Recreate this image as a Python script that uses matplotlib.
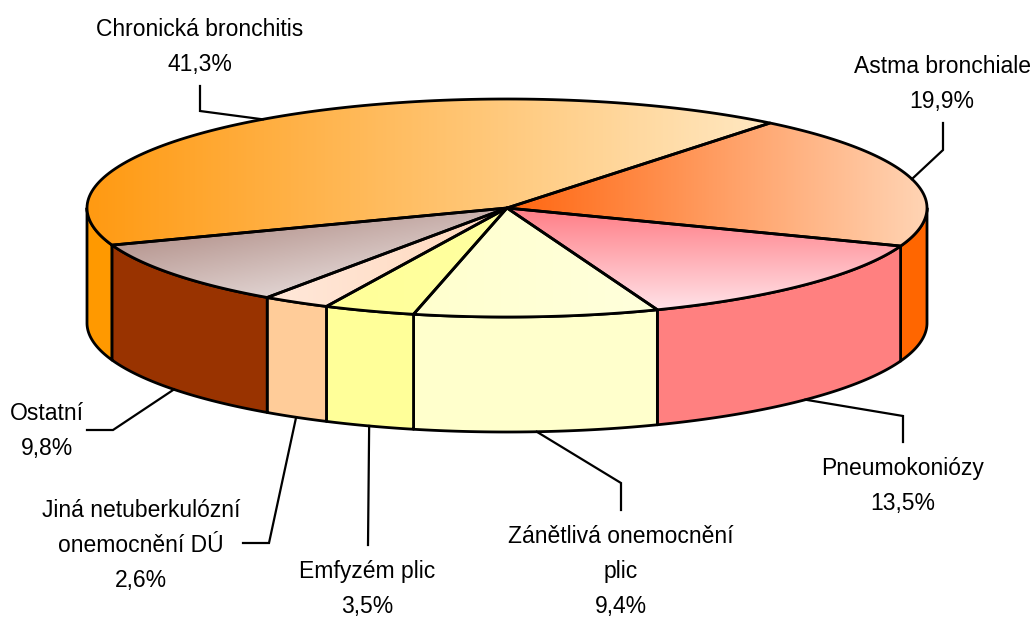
import numpy as np
import matplotlib.pyplot as plt
from matplotlib.patches import Polygon
from matplotlib.colors import LinearSegmentedColormap

# data
nazvy = ['Chronická bronchitis', 'Astma bronchiale', 'Pneumokoniózy',
         'Zánětlivá onemocnění\nplic', 'Emfyzém plic',
         'Jiná netuberkulózní\nonemocnění DÚ', 'Ostatní']
podily = [41.3, 19.9, 13.5, 9.4, 3.5, 2.6, 9.8]

# barvy: bok a prechod na horni plose (od, do, smer)
barvy_bok = ['#FF9900', '#FF6600', '#FF8080', '#FFFFCC', '#FFFF99', '#FFCC99', '#993300']
barvy_vrch = [('#FF9A12', '#FFE8C2', (1, 0)),
              ('#FF6610', '#FFD4B4', (1, 0)),
              ('#FF7E86', '#FFE2E8', (0, 1)),
              ('#FFFFCE', '#FFFFDC', (1, 0)),
              ('#FFFF99', '#FFFFA0', (1, 0)),
              ('#FFE8DA', '#FFD8BC', (1, 0)),
              ('#A47C74', '#F6F2F2', (0.8, 1))]

# pozice popisku (stred, uctari prvniho radku) a lomene vodici cary
popisky_x = [200, 942, 903, 621, 367, 141, 47]
popisky_y = [36, 73, 475, 543, 578, 517, 420]
vodici_konec = [(200, 86), (943, 123), (903, 442), (621, 510), (368, 545), (243, 543), (87, 430)]
vodici_lom = [(200, 111), (943, 150), (903, 416), (621, 483), (368, 545), (269, 543), (113, 430)]

# geometrie kolace v pixelech
CX, CY = 507, 208
A, B = 420, 109
HLOUBKA = 115
START = 199.9
LW = 2.0

plt.rcParams['font.family'] = ['Liberation Sans', 'DejaVu Sans']

fig = plt.figure(figsize=(10.34, 6.17), dpi=100)
ax = fig.add_axes([0, 0, 1, 1])
ax.axis('off')


def bod(theta, dole=0):
    t = np.radians(theta)
    return CX + A * np.cos(t), CY - B * np.sin(t) + dole


def oblouk(t1, t2, dole=0, n=120):
    tt = np.linspace(t1, t2, n)
    x, y = bod(tt, dole)
    return np.column_stack([x, y])


def prechod(poly, c1, c2, smer):
    x0, y0 = poly.min(axis=0)
    x1, y1 = poly.max(axis=0)
    X, Y = np.meshgrid(np.linspace(x0, x1, 200), np.linspace(y0, y1, 200))
    dx, dy = smer
    t = (X - x0) / max(x1 - x0, 1) * dx + (Y - y0) / max(y1 - y0, 1) * dy
    t = (t - t.min()) / max(t.max() - t.min(), 1e-9)
    cmap = LinearSegmentedColormap.from_list('g', [c1, c2])
    img = ax.imshow(t, cmap=cmap, extent=(x0, x1, y1, y0), origin='upper',
                    aspect='auto', interpolation='bilinear', zorder=2)
    p = Polygon(poly, closed=True, facecolor='none', edgecolor='none')
    ax.add_patch(p)
    img.set_clip_path(p)


uhly = START - np.cumsum([0] + podily) * 3.6
useky = [(uhly[i + 1], uhly[i]) for i in range(len(podily))]

# boky (jen predni polovina)
for (t_end, t_start), barva in zip(useky, barvy_bok):
    for lo, hi in [(-180, 0), (180, 360), (-540, -360)]:
        a1, a2 = max(t_end, lo), min(t_start, hi)
        if a2 - a1 > 1e-6:
            horni = oblouk(a1, a2)
            dolni = oblouk(a2, a1, HLOUBKA)
            ax.add_patch(Polygon(np.vstack([horni, dolni]), closed=True,
                                 facecolor=barva, edgecolor='black',
                                 linewidth=LW, joinstyle='round', zorder=1))

# horni plochy
for (t_end, t_start), (c1, c2, smer) in zip(useky, barvy_vrch):
    poly = np.vstack([[CX, CY], oblouk(t_start, t_end)])
    prechod(poly, c1, c2, smer)
    ax.add_patch(Polygon(poly, closed=True, facecolor='none', edgecolor='black',
                         linewidth=LW, joinstyle='round', zorder=3))

# popisky a vodici cary
for i, (nazev, v) in enumerate(zip(nazvy, podily)):
    t_mid = (useky[i][0] + useky[i][1]) / 2
    if np.sin(np.radians(t_mid)) >= 0:
        px, py = bod(t_mid)
    else:
        px, py = bod(t_mid, HLOUBKA)
    kx, ky = vodici_konec[i]
    lx, ly = vodici_lom[i]
    ax.plot([kx, lx, px], [ky, ly, py], color='black', linewidth=1.6,
            solid_joinstyle='miter', zorder=4)
    radky = nazev.split('\n') + [f'{v:.1f}'.replace('.', ',') + '%']
    for j, r in enumerate(radky):
        ax.text(popisky_x[i], popisky_y[i] + j * 35, r, ha='center', va='baseline',
                fontsize=16.5, color='black', zorder=5)

ax.set_xlim(0, 1034)
ax.set_ylim(617, 0)
fig.savefig('out.png', dpi=100, facecolor='white')
